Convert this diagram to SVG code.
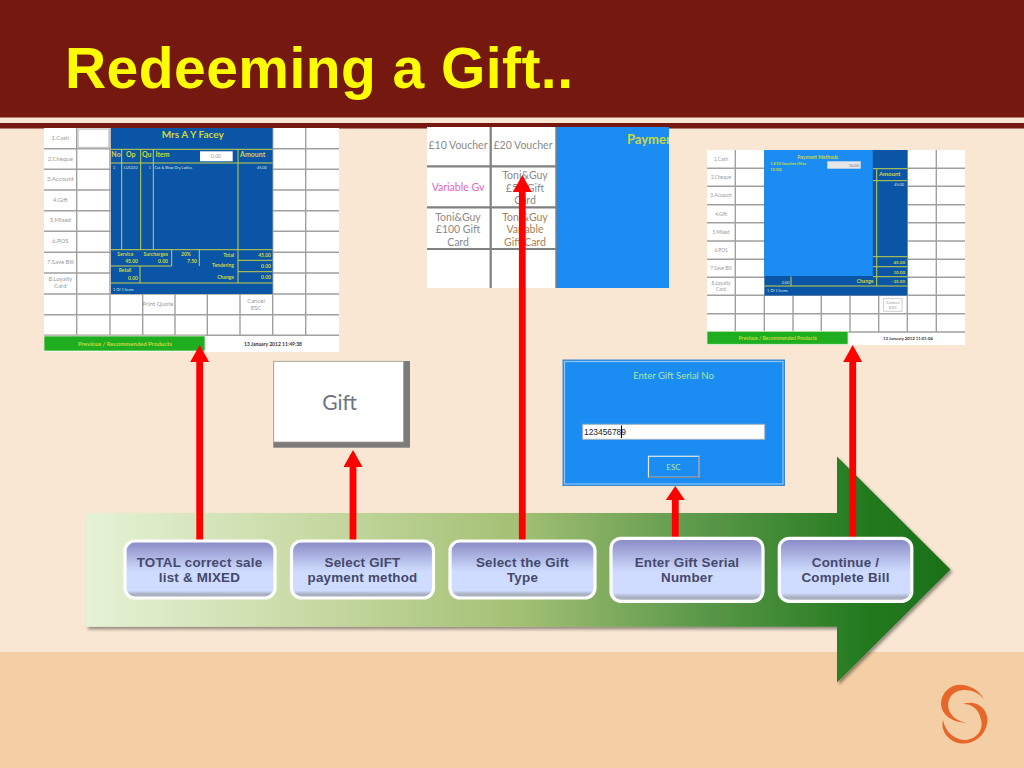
<svg xmlns="http://www.w3.org/2000/svg" width="1024" height="768" viewBox="0 0 1024 768">
<style>
text{font-family:"Lato","Open Sans","Liberation Sans",sans-serif}
.g{font-size:6px;fill:#9a9a9a;text-anchor:middle}
.y{fill:#ccd83e;font-weight:700;font-size:5px}
.e{text-anchor:end}
.m{text-anchor:middle}
.w{font-size:3.8px;fill:#dfe8d8}
.grid{fill:none;stroke:#a0a0a0;stroke-width:1.400}
.yl{fill:none;stroke:#c3d24a;stroke-width:1}
.st{font-family:"Liberation Sans",Arial,sans-serif;font-size:13.400px;font-weight:700;fill:#45496d;text-anchor:middle;letter-spacing:.2px}
.sb{fill:url(#stepFill);stroke:#fff;stroke-width:3.2}
.vo{font-size:10.500px;fill:#8a8a8a;text-anchor:middle}
.cn{fill:none;stroke:#f00;stroke-width:6.8}
</style>
<defs>
<linearGradient id="arrowFill" x1="86" x2="951" y1="0" y2="0" gradientUnits="userSpaceOnUse">
<stop offset="0" stop-color="#e6f2d6"/><stop offset="0.25" stop-color="#c9dba6"/><stop offset="0.5" stop-color="#a3c074"/><stop offset="0.7" stop-color="#5f9a4c"/><stop offset="0.9" stop-color="#237a1f"/><stop offset="1" stop-color="#1c7018"/>
</linearGradient>
<linearGradient id="stepFill" x1="0" x2="0" y1="0" y2="1">
<stop offset="0" stop-color="#8789c4"/><stop offset="0.45" stop-color="#c5d0f6"/><stop offset="0.55" stop-color="#cfdbff"/><stop offset="0.87" stop-color="#cfdbff"/><stop offset="0.93" stop-color="#aab2c2"/><stop offset="1" stop-color="#a8b0bc"/>
</linearGradient>
<filter id="shadow" x="-5%" y="-5%" width="110%" height="110%"><feDropShadow dx="2" dy="2.5" stdDeviation="1.8" flood-color="#000" flood-opacity="0.4"/></filter>
<marker id="head" markerUnits="userSpaceOnUse" markerWidth="17" markerHeight="19" refX="0" refY="9.5" orient="auto" viewBox="0 0 17 19"><path d="M0 0L17 9.5L0 19Z" fill="#f00"/></marker>
<marker id="headShort" markerUnits="userSpaceOnUse" markerWidth="14" markerHeight="19" refX="0" refY="9.5" orient="auto" viewBox="0 0 14 19"><path d="M0 0L14 9.5L0 19Z" fill="#f00"/></marker>
<clipPath id="clipVoucher"><rect x="427" y="127" width="242" height="161"/></clipPath>
</defs>

<g id="background">
<rect width="1024" height="768" fill="#f9e6d3"/>
<rect y="652" width="1024" height="116" fill="#f4cfa6"/>
<rect width="1024" height="117.500" fill="#741810"/>
<rect y="123" width="1024" height="5.500" fill="#741810"/>
<text x="65" y="88" font-size="57" font-weight="700" fill="#fdfc00" textLength="508" lengthAdjust="spacing" style="font-family:'Liberation Sans',Arial,sans-serif">Redeeming a Gift..</text>
</g>

<g id="flow-arrow"><path d="M86 513H837V456.500L950.500 569.500L837 682.500V626.700H86Z" fill="url(#arrowFill)" filter="url(#shadow)"/></g>

<g id="screen-sale">
<rect x="44" y="128" width="295" height="224" fill="#fff"/>
<path class="grid" d="M76.700 128V335M110 128V335M142.700 294V335M175 294V335M207.300 294V335M240 294V335M272.700 128V335M305.700 128V335M44 148.700H111M44 169.300H111M44 190H111M44 210.700H111M44 231.300H111M44 252.300H111M44 273H111M44 294H339M44 314.700H339M44 335.300H339M272 148.700H339M272 169.300H339M272 190H339M272 210.700H339M272 231.300H339M272 252.300H339M272 273H339"/>
<rect x="78" y="129" width="31" height="18.500" fill="#fff" stroke="#c8c8c8" stroke-width="1.500"/>
<rect x="111" y="128" width="161.500" height="166" fill="#0a55a5"/>
<path class="yl" d="M111 149.300H272.500M111 163H272.500M111 249.700H272.500M111 266H171.700M111 283H272.500M121.700 149.300V249.700M140.700 149.300V249.700M153.300 149.300V249.700M238 149.300V283M171.700 249.700V266M199.300 249.700V266M140 266V283M238 260.300H272.500M238 271.700H272.500"/>
<text class="g" x="60.300" y="140">1.Cash</text><text class="g" x="60.300" y="160.500">2.Cheque</text><text class="g" x="60.300" y="181">3.Account</text><text class="g" x="60.300" y="201.500">4.Gift</text><text class="g" x="60.300" y="222">5.Mixed</text><text class="g" x="60.300" y="243">6.POS</text><text class="g" x="60.300" y="264">7.Save Bill</text><text class="g" x="60.300" y="281">8.Loyalty<tspan x="60.300" dy="7">Card</tspan></text>
<text class="y m" x="192.700" y="138" style="font-size:10px">Mrs A Y Facey</text>
<text x="116" y="157" class="m y" style="font-size:7px">No</text><text x="130.700" y="157" class="m y" style="font-size:7px">Op</text><text x="146.700" y="157" class="m y" style="font-size:7px">Qu</text><text x="155.500" y="157" class="y" style="font-size:7px">Item</text><text x="252.700" y="157" class="m y" style="font-size:7px">Amount</text>
<rect x="200" y="151.300" width="32.700" height="10" fill="#fff"/><text class="g" x="216" y="158" style="font-size:5px">0.00</text>
<text class="w" x="113" y="169">1</text><text class="w m" x="130.700" y="169">LUC032</text><text class="w e" x="151" y="169">1</text><text class="w" x="154.500" y="169">Cut &amp; Blow Dry Ladies</text><text class="w e" x="266.700" y="169">45.00</text>
<text class="y m" x="125.300" y="256">Service</text><text class="y e" x="138" y="263">45.00</text><text class="y m" x="155.700" y="256">Surcharges</text><text class="y e" x="168" y="263">0.00</text><text class="y m" x="186" y="256">20%</text><text class="y e" x="197" y="263">7.50</text>
<text class="y e" x="234" y="256.500">Total</text><text class="y e" x="234" y="267">Tendering</text><text class="y e" x="234" y="278.500">Change</text>
<text class="y e" x="271" y="256.500">45.00</text><text class="y e" x="271" y="267.500">0.00</text><text class="y e" x="271" y="278.500">0.00</text>
<text class="y m" x="125" y="272">Retail</text><text class="y e" x="138" y="279.500">0.00</text><text class="w" x="113" y="290.500">1 Of 1 Items</text>
<text class="g" x="158" y="305.500">Print Quote</text><text class="g" x="256" y="303">Cancel<tspan x="256" dy="7">ESC</tspan></text>
<rect x="44" y="336" width="161" height="15" fill="#1fae20" stroke="#d8eec8" stroke-width="0.800"/>
<text class="y m" x="125" y="345.500" style="font-size:6px">Previous / Recommended Products</text>
<text x="273" y="345.500" font-size="5" font-weight="700" fill="#333" text-anchor="middle">13 January 2012 11:49:38</text>
</g>

<g id="screen-voucher" clip-path="url(#clipVoucher)">
<rect x="427" y="127" width="130" height="161" fill="#fff"/>
<rect x="556" y="127" width="113" height="161" fill="#1b8df2"/>
<path fill="none" stroke="#808080" stroke-width="2.200" d="M490.700 127V288M427 166.300H556M427 207.300H556M427 249H556"/>
<path fill="none" stroke="#808080" stroke-width="1.500" d="M556 127V288"/>
<text class="vo" x="458" y="149">£10 Voucher</text><text class="vo" x="523" y="149">£20 Voucher</text>
<text class="vo" x="458" y="191" style="fill:#e066c4">Variable Gv</text>
<text class="vo" x="525" y="179">Toni&amp;Guy<tspan x="525" dy="12.500">£50 Gift</tspan><tspan x="525" dy="12.500">Card</tspan></text>
<text class="vo" x="458" y="220.500">Toni&amp;Guy<tspan x="458" dy="12.500">£100 Gift</tspan><tspan x="458" dy="12.500">Card</tspan></text>
<text class="vo" x="525" y="220.500" style="fill:#a68156">Toni&amp;Guy<tspan x="525" dy="12.500">Variable</tspan><tspan x="525" dy="12.500">Gift Card</tspan></text>
<text x="627" y="144" font-size="13" font-weight="700" fill="#ccd83e">Payment</text>
</g>

<g id="screen-payment">
<rect x="707" y="150" width="258" height="195" fill="#fff"/>
<path class="grid" d="M735.300 150V332M764.300 295V332M793 295V332M821.300 295V332M850 295V332M878.700 295V332M907.300 150V332M936.300 150V332M707 168.300H765M707 186.300H765M707 204.700H765M707 222.700H765M707 241H765M707 259.300H765M707 277.300H765M707 295.300H965M707 313.700H965M707 332H965M907 168.300H965M907 186.300H965M907 204.700H965M907 222.700H965M907 241H965M907 259.300H965M907 277.300H965"/>
<rect x="764.300" y="150" width="143" height="145.500" fill="#0a55a5"/>
<rect x="764.300" y="150" width="108.500" height="126" fill="#1b8df2"/>
<path class="yl" d="M873 168.700H907.300M873 180.700H907.300M876.700 168.700V286M873 256.700H907.300M873 266.700H907.300M873 276.700H907.300M764.300 286H907.300M791 276.500V286"/>
<text class="g" x="721" y="161" style="font-size:4.800px">1.Cash</text><text class="g" x="721" y="179" style="font-size:4.800px">2.Cheque</text><text class="g" x="721" y="197" style="font-size:4.800px">3.Account</text><text class="g" x="721" y="215.500" style="font-size:4.800px">4.Gift</text><text class="g" x="721" y="233.500" style="font-size:4.800px">5.Mixed</text><text class="g" x="721" y="251.500" style="font-size:4.800px">6.POS</text><text class="g" x="721" y="270" style="font-size:4.800px">7.Save Bill</text><text class="g" x="721" y="285" style="font-size:4.800px">8.Loyalty<tspan x="721" dy="5.500">Card</tspan></text>
<text class="y m" x="817.700" y="158.500" style="font-size:5px">Payment Methods</text>
<text class="y" x="770.300" y="165" style="font-size:4px">1.£10 Voucher (Max<tspan x="770.300" dy="5.500">10.00)</tspan></text>
<rect x="827.300" y="161.300" width="33.400" height="7.400" fill="#e4e6e8"/><text x="859" y="167" font-size="4" fill="#777" text-anchor="end">10.00</text>
<text class="y m" x="889.700" y="176" style="font-size:6px">Amount</text><text class="w e" x="904" y="185.500">45.00</text>
<text class="y e" x="905" y="263.500" style="font-size:4.500px">45.00</text><text class="y e" x="905" y="273.500" style="font-size:4.500px">10.00</text><text class="y e" x="905" y="283" style="font-size:4.500px">-35.00</text>
<text class="y e" x="873.500" y="282.500">Change</text><text class="w e" x="789.500" y="283.500">0.00</text><text class="w" x="767" y="292">1 Of 1 Items</text>
<rect x="883.700" y="298.700" width="18.300" height="12.500" fill="#fff" stroke="#bbb" stroke-width="0.700"/>
<text class="g" x="893" y="303.500" style="font-size:4.500px">Cancel<tspan x="893" dy="5.500">ESC</tspan></text>
<rect x="707" y="331.300" width="141" height="13" fill="#1fae20" stroke="#d8eec8" stroke-width="0.800"/>
<text class="y m" x="777.700" y="340" style="font-size:5px">Previous / Recommended Products</text>
<text x="908" y="340" font-size="4.300" font-weight="700" fill="#333" text-anchor="middle">13 January 2012 11:01:06</text>
</g>

<g id="button-gift">
<rect x="273.300" y="361" width="136.700" height="86.700" fill="#7b7b7b"/>
<rect x="273.700" y="361.300" width="129.800" height="80.700" fill="#fff" stroke="#a9a195" stroke-width="0.800"/>
<text x="339.500" y="409.500" font-size="21" fill="#6b7280" text-anchor="middle">Gift</text>
</g>

<g id="dialog-serial">
<rect x="563" y="360" width="221.500" height="125.500" fill="#1b8df2" stroke="#3f88cc" stroke-width="1"/>
<rect x="564.500" y="361.500" width="218.500" height="122.500" fill="none" stroke="#8cc6f6" stroke-width="1.200"/>
<text x="673.500" y="378.500" font-size="9.500" fill="#a9e8a6" text-anchor="middle">Enter Gift Serial No</text>
<rect x="582.700" y="424.300" width="182" height="15" fill="#fff" stroke="#9fb4c6" stroke-width="1"/>
<text x="584" y="435" font-size="8.400" fill="#222" style="font-family:'Liberation Sans',sans-serif">123456789</text>
<path d="M621.500 425.500V438" stroke="#000" stroke-width="1"/>
<rect x="648.500" y="456.300" width="50.500" height="21" fill="none" stroke="#e0e6ea" stroke-width="1.200"/>
<path d="M648.500 477.300H699V456.300" fill="none" stroke="#808890" stroke-width="1.200"/>
<text x="673.500" y="470" font-size="8" fill="#a9e8a6" text-anchor="middle">ESC</text>
</g>

<g id="logo" fill="#e8662a">
<path d="M984 699C976 685 957 680 947 690C935 702 941 722 967 723C950 720 944 706 951 696C958 687 975 688 984 699Z"/>
<path d="M963 704C978 699 990 711 987 724C984 740 966 748 953 741C944 736 941 727 943 720C945 730 952 739 964 740C976 740 984 730 981 720C979 710 973 704 963 704Z"/>
</g>

<g id="connectors">
<path class="cn" d="M199.700 545V362" marker-end="url(#head)"/>
<path class="cn" d="M353 545V467" marker-end="url(#head)"/>
<path class="cn" d="M522.300 545V192" marker-end="url(#head)"/>
<path class="cn" d="M675.300 545V500" marker-end="url(#headShort)"/>
<path class="cn" d="M852.700 537V362" marker-end="url(#head)"/>
</g>

<g id="step-1"><rect class="sb" x="125" y="541" width="150" height="57" rx="10"/><text class="st" x="199.500" y="566.500">TOTAL correct sale<tspan x="199.500" dy="15.500">list &amp; MIXED</tspan></text></g>
<g id="step-2"><rect class="sb" x="291.500" y="541" width="142" height="57" rx="10"/><text class="st" x="362.500" y="566.500">Select GIFT<tspan x="362.500" dy="15.500">payment method</tspan></text></g>
<g id="step-3"><rect class="sb" x="450" y="541" width="145" height="57" rx="10"/><text class="st" x="522.500" y="566.500">Select the Gift<tspan x="522.500" dy="15.500">Type</tspan></text></g>
<g id="step-4"><rect class="sb" x="611" y="538.300" width="152" height="63" rx="10"/><text class="st" x="687" y="566.500">Enter Gift Serial<tspan x="687" dy="15.500">Number</tspan></text></g>
<g id="step-5"><rect class="sb" x="779.300" y="538.300" width="132.500" height="63" rx="10"/><text class="st" x="845.500" y="566.500">Continue /<tspan x="845.500" dy="15.500">Complete Bill</tspan></text></g>
</svg>
